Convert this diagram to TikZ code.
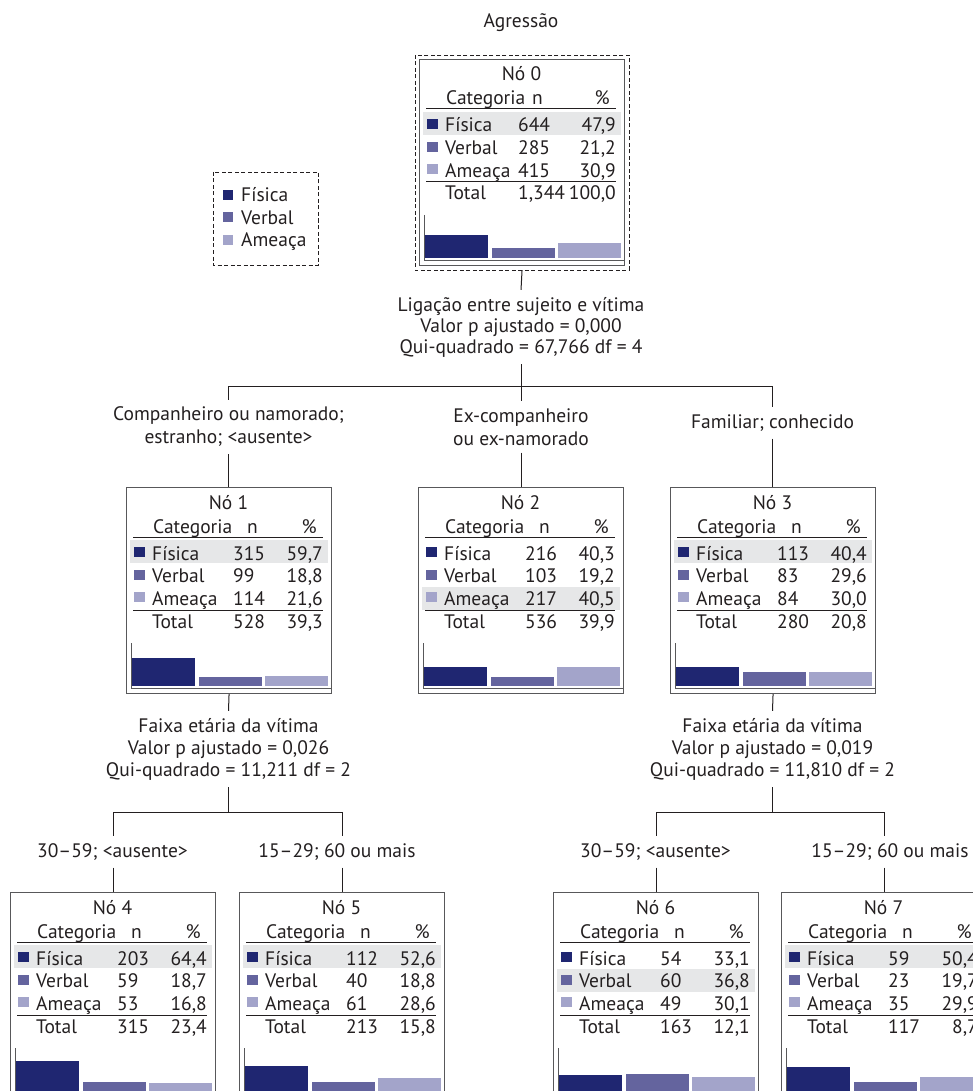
\documentclass[tikz,border=0pt]{standalone}
\usepackage{fontspec}
\setmainfont{PT Sans}
\usetikzlibrary{calc}

\definecolor{cor1}{HTML}{1F2671}
\definecolor{cor2}{HTML}{64649E}
\definecolor{cor3}{HTML}{A3A4CA}
\definecolor{destaque}{HTML}{E6E7E8}
\definecolor{borda}{HTML}{58585A}
\definecolor{texto}{HTML}{231F20}

\tikzset{
  txt/.style={font=\fontsize{19.5}{21}\selectfont, text=texto, inner sep=0},
  rotulo/.style={txt, align=center, inner xsep=0, inner ysep=7pt},
  caixa/.style={draw=borda, line width=1.1pt, minimum width=205pt, minimum height=206pt, inner sep=0, anchor=north west},
  eixo/.style={draw=borda, line width=1pt},
  regua/.style={draw=texto, line width=1pt},
  ligacao/.style={draw=texto, line width=1pt},
  tracejado/.style={draw=texto, line width=0.9pt, dash pattern=on 4pt off 2.5pt},
}

\newcommand{\catnome}[1]{\ifcase#1\or Física\or Verbal\or Ameaça\fi}

% [coluna n]{nome}{canto}{numero}{linha destacada}{n/%/altura}{total n}{total %}
\newcommand{\noarvore}[8][107]{%
  \node[caixa] (#2) at (#3) {};
  \begin{scope}[shift={(#3)}]
    \fill[destaque] (4,{-53-23.5*(#5-1)}) rectangle (202,{-76-23.5*(#5-1)});
    \node[txt, anchor=base] (#2-tit) at (102.5,-22) {Nó #4};
    \node[txt, anchor=base west] (#2-cat) at (27,-46) {Categoria};
    \node[txt, anchor=base west] (#2-ncab) at ({#1+14},-46) {n};
    \node[txt, anchor=base east] (#2-pcab) at (191,-46) {\%};
    \draw[regua] (7,-50) -- (197,-50);
    \foreach \n/\p/\h [count=\i] in {#6} {
      \pgfmathsetmacro{\yb}{-73-22.7*(\i-1)}
      \fill[cor\i] (8,{\yb+3}) rectangle (19,{\yb+13});
      \node[txt, anchor=base west] (#2-c\i) at (26,\yb) {\catnome{\i}};
      \node[txt, anchor=base west] (#2-n\i) at (#1,\yb) {\n};
      \node[txt, anchor=base east] (#2-p\i) at (197,\yb) {\p};
      \fill[cor\i] ({6+66.5*(\i-1)},-199) rectangle ++(63,{0.47*\h});
    }
    \draw[regua] (7,-123) -- (197,-123);
    \node[txt, anchor=base west] (#2-tot) at (26,-141) {Total};
    \node[txt, anchor=base west] (#2-ntot) at (#1,-141) {#7};
    \node[txt, anchor=base east] (#2-ptot) at (197,-141) {#8};
    \draw[eixo] (5,-156) -- (5,-201) -- (205,-201);
  \end{scope}}

\begin{document}
\begin{tikzpicture}[x=1pt, y=1pt]
\useasboundingbox (0,0) rectangle (973,-1091);
\clip (0,0) rectangle (973,-1091);

\node[txt, anchor=base] (alvo) at (521,-28) {Agressão};

% legenda
\draw[tracejado] (213,-172) rectangle (318,-265);
\foreach \i in {1,2,3} {
  \fill[cor\i] (223,{-190-22.5*(\i-1)}) rectangle ++(10,-10);
  \node[txt, anchor=base west] (leg\i) at (241,{-202-22.5*(\i-1)}) {\catnome{\i}};
}

% nos
\noarvore[99]{no0}{419,-59}{0}{1}{644/{47,9}/47.9, 285/{21,2}/21.2, 415/{30,9}/30.9}{1,344}{100,0}
\draw[tracejado] ($(no0.north west)+(-4,4)$) rectangle ($(no0.south east)+(4,-4)$);
\coordinate (no0b) at ($(no0.south)+(0,-4)$);

\noarvore{no1}{126,-487}{1}{1}{315/{59,7}/59.7, 99/{18,8}/18.8, 114/{21,6}/21.6}{528}{39,3}
\noarvore{no2}{418,-487}{2}{3}{216/{40,3}/40.3, 103/{19,2}/19.2, 217/{40,5}/40.5}{536}{39,9}
\noarvore{no3}{670,-487}{3}{1}{113/{40,4}/40.4, 83/{29,6}/29.6, 84/{30,0}/30.0}{280}{20,8}
\noarvore{no4}{10,-892}{4}{1}{203/{64,4}/64.4, 59/{18,7}/18.7, 53/{16,8}/16.8}{315}{23,4}
\noarvore{no5}{239,-892}{5}{1}{112/{52,6}/52.6, 40/{18,8}/18.8, 61/{28,6}/28.6}{213}{15,8}
\noarvore{no6}{553,-892}{6}{2}{54/{33,1}/33.1, 60/{36,8}/36.8, 49/{30,1}/30.1}{163}{12,1}
\noarvore{no7}{781,-892}{7}{1}{59/{50,4}/50.4, 23/{19,7}/19.7, 35/{29,9}/29.9}{117}{8,7}

% primeiro nivel
\node[rotulo] (teste0) at (521,-327) {Ligação entre sujeito e vítima\\Valor p ajustado = 0,000\\Qui-quadrado = 67,766 df = 4};
\node[rotulo] (ramo1) at (228.5,-427) {Companheiro ou namorado;\\[2pt]estranho; <ausente>};
\node[rotulo] (ramo2) at (521,-427) {Ex-companheiro\\[2pt]ou ex-namorado};
\node[rotulo] (ramo3) at (772.5,-423) {Familiar; conhecido};
\coordinate (bif0) at (521,-386);

\draw[ligacao] (no0b) -- (teste0.north);
\draw[ligacao] (teste0.south) -- (bif0);
\draw[ligacao] (bif0 -| ramo1) -- (bif0 -| ramo3);
\foreach \r [count=\k] in {ramo1,ramo2,ramo3} {
  \draw[ligacao] (bif0 -| \r) -- (\r.north);
  \draw[ligacao] (\r.south) -- (\r.south |- no\k.north);
}

% segundo nivel
\node[rotulo] (teste1) at (228.5,-749) {Faixa etária da vítima\\[1pt]Valor p ajustado = 0,026\\[1pt]Qui-quadrado = 11,211 df = 2};
\node[rotulo] (teste3) at (772.5,-749) {Faixa etária da vítima\\[1pt]Valor p ajustado = 0,019\\[1pt]Qui-quadrado = 11,810 df = 2};
\coordinate (bif1) at (228.5,-812);
\coordinate (bif3) at (772.5,-812);
\node[rotulo] (ramo4) at (112.5,-852) {30–59; <ausente>};
\node[rotulo] (ramo5) at (337,-852) {15–29; 60 ou mais};
\node[rotulo] (ramo6) at (655.5,-852) {30–59; <ausente>};
\node[rotulo] (ramo7) at (890,-852) {15–29; 60 ou mais};

\draw[ligacao] (no1.south) -- (teste1.north);
\draw[ligacao] (teste1.south) -- (bif1);
\draw[ligacao] (bif1 -| no4) -- (bif1 -| no5);
\draw[ligacao] (no3.south) -- (teste3.north);
\draw[ligacao] (teste3.south) -- (bif3);
\draw[ligacao] (bif3 -| no6) -- (bif3 -| no7);
\foreach \r in {4,5} {
  \draw[ligacao] (bif1 -| no\r) -- (ramo\r.north -| no\r);
  \draw[ligacao] (ramo\r.south -| no\r) -- (no\r.north);
}
\foreach \r in {6,7} {
  \draw[ligacao] (bif3 -| no\r) -- (ramo\r.north -| no\r);
  \draw[ligacao] (ramo\r.south -| no\r) -- (no\r.north);
}
\end{tikzpicture}
\end{document}
